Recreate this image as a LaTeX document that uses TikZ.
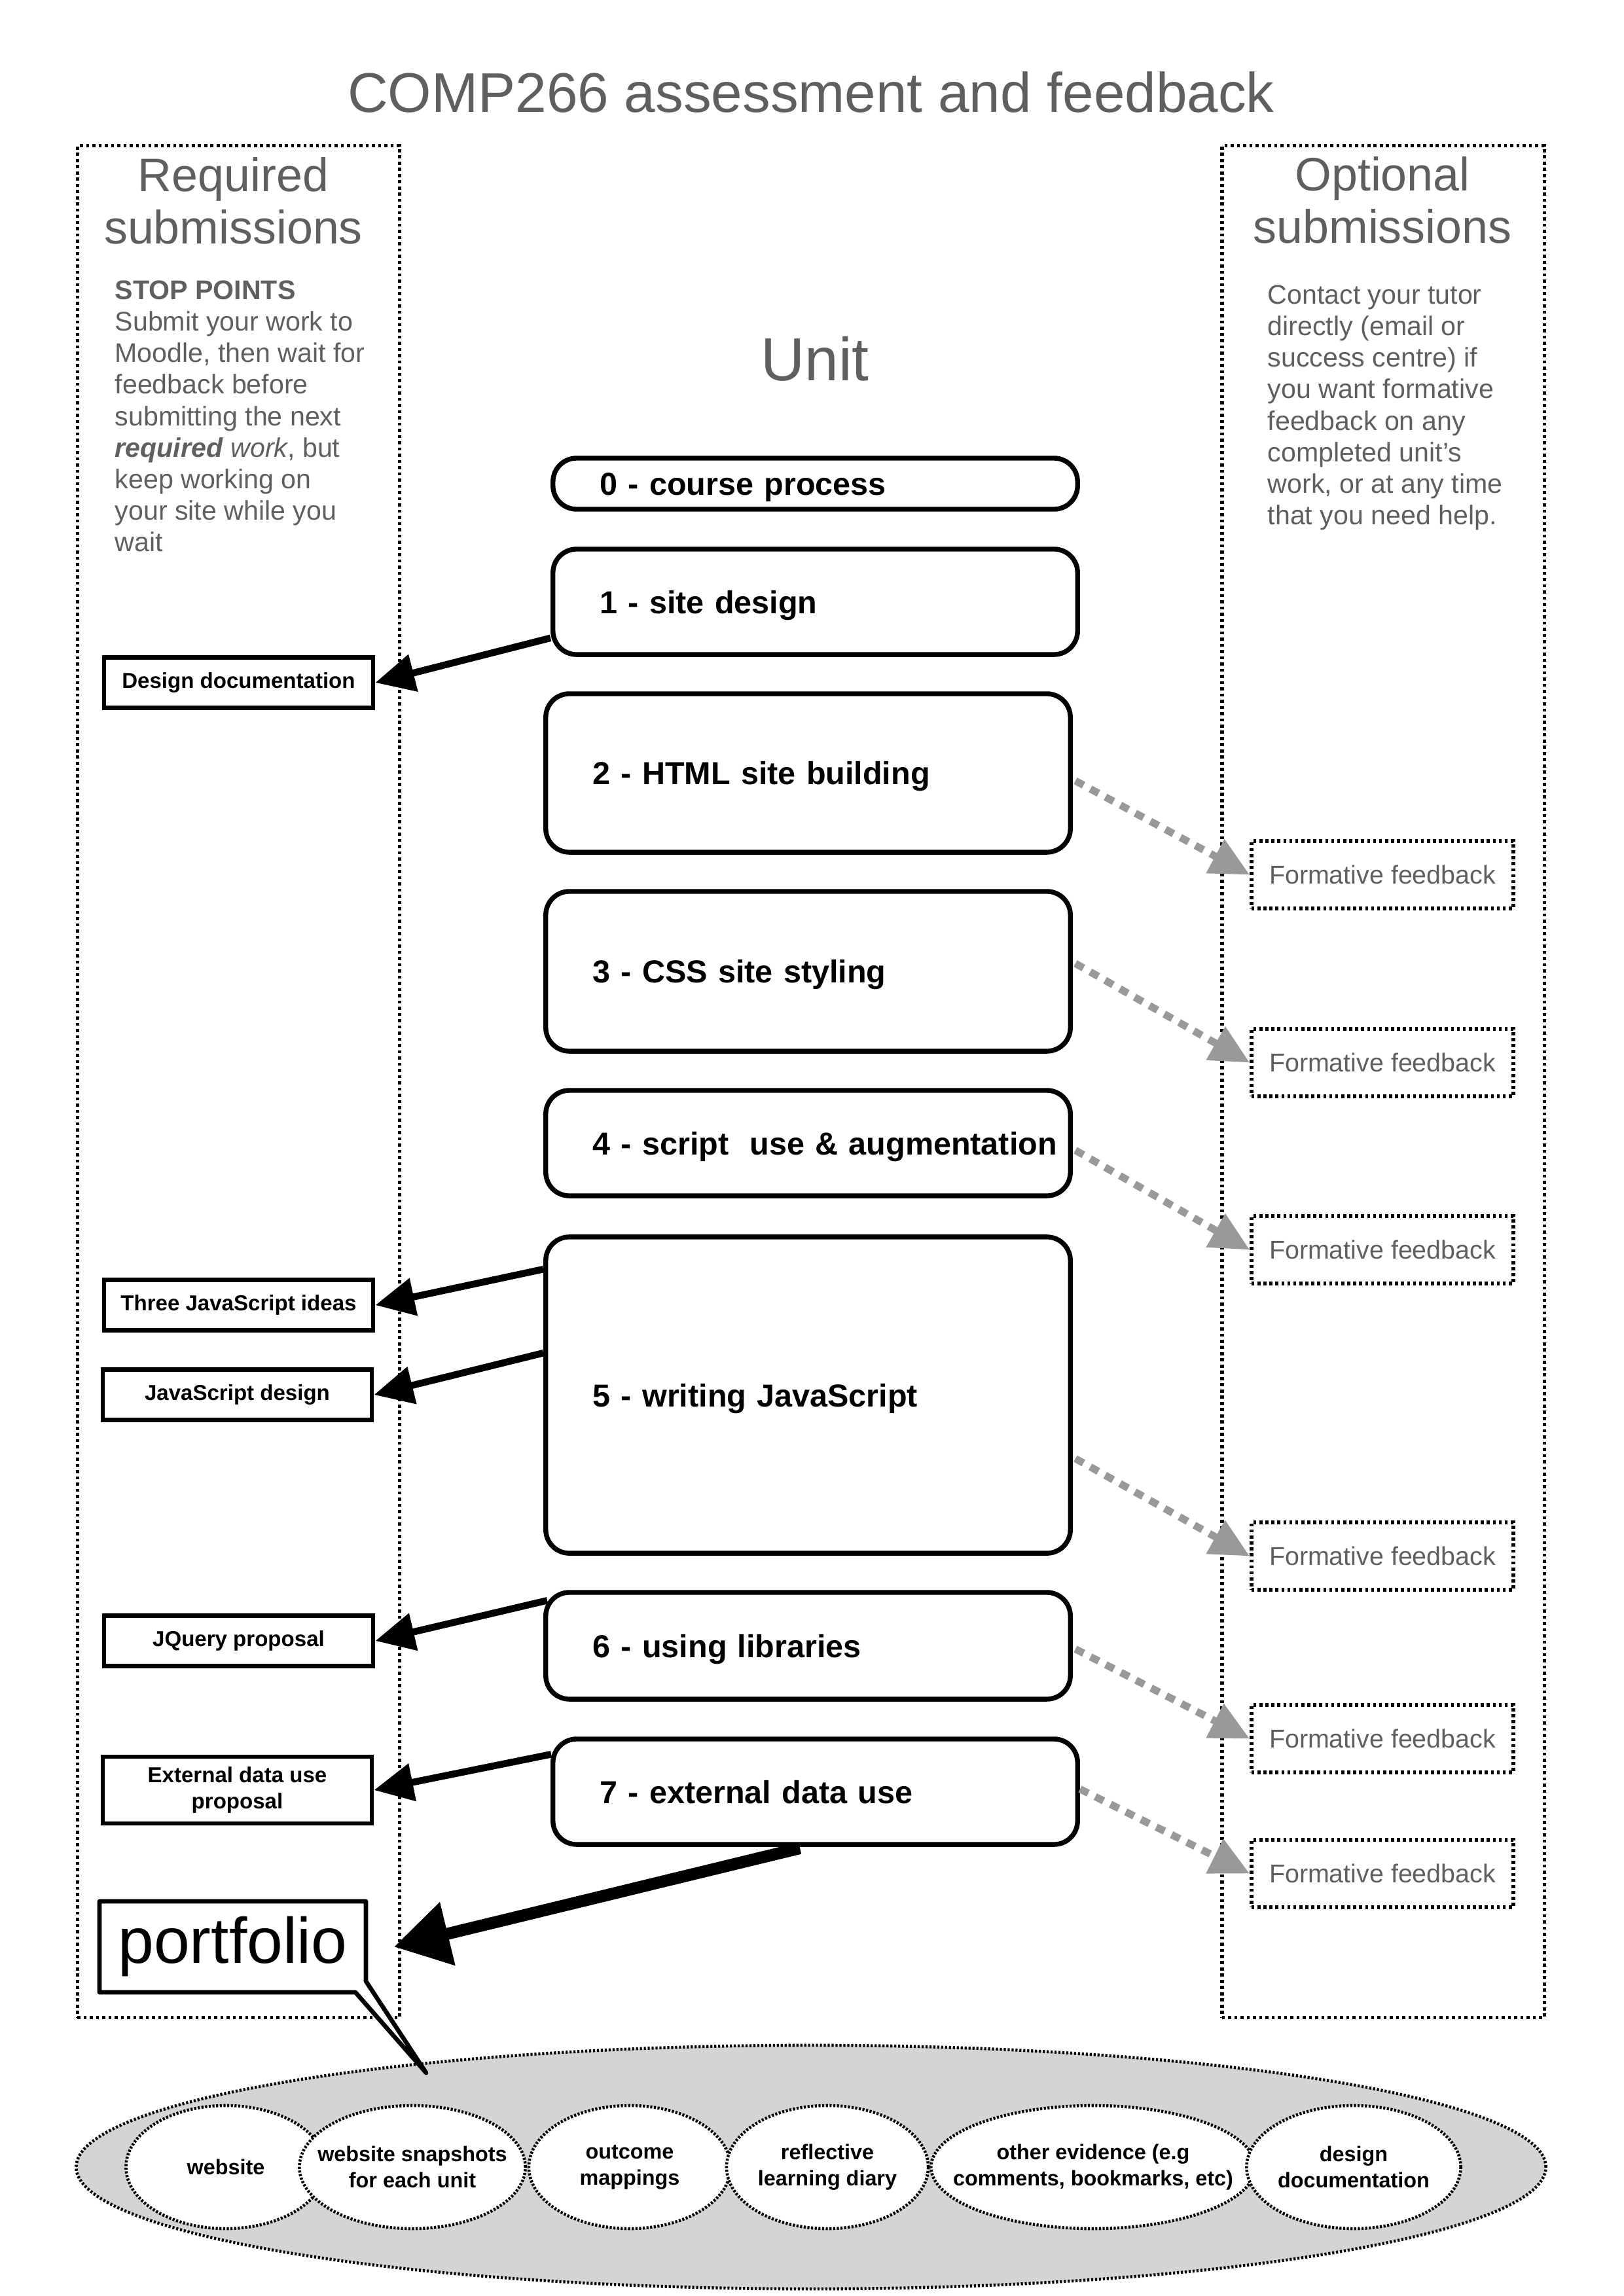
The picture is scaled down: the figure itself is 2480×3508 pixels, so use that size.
\documentclass[tikz,border=0pt]{standalone}
\usepackage{fontspec}
\setmainfont{Liberation Sans}
\usetikzlibrary{arrows.meta,shapes.geometric,calc}
\definecolor{txtgray}{HTML}{5F5F5F}
\definecolor{arrgray}{HTML}{999999}
\definecolor{ellgray}{HTML}{D4D4D4}
\begin{document}
\begin{tikzpicture}[x=0.01cm,y=-0.01cm,
  colbox/.style={draw, line width=1.5pt, dash pattern=on 1.3pt off 1.4pt, minimum width=4.92cm, minimum height=28.58cm, inner sep=0pt},
  heading/.style={text=txtgray, font=\fontsize{20.4}{22.8}\selectfont, align=center, inner sep=0pt, anchor=north},
  note/.style={text=txtgray, font=\fontsize{11.7}{13.7}\selectfont, align=left, inner sep=0pt, anchor=north west},
  unitbox/.style={draw, line width=2.1pt, rounded corners=0.36cm, fill=white, font=\fontsize{13.8}{16}\selectfont\bfseries, align=left, text width=8.01cm, text height=10pt, text depth=0pt, inner xsep=0pt, inner ysep=0pt, execute at begin node={\hspace*{0.72cm}}},
  subbox/.style={draw, line width=1.9pt, fill=white, minimum width=4.11cm, minimum height=0.77cm, font=\fontsize{9.4}{11.4}\selectfont\bfseries, align=center, inner sep=0pt},
  ffbox/.style={draw, line width=1.6pt, dash pattern=on 1.3pt off 1.3pt, minimum width=4cm, minimum height=1.03cm, text=txtgray, font=\fontsize{11.2}{13}\selectfont, inner sep=0pt},
  reqarrow/.style={line width=3pt, -{Triangle[length=17pt,width=16pt]}},
  bigarrow/.style={line width=5.2pt, -{Triangle[length=24pt,width=27pt]}},
  optarrow/.style={draw=arrgray, line width=3.2pt, dash pattern=on 4pt off 3.4pt, -{Triangle[length=17pt,width=16pt]}},
  part/.style={ellipse, draw, fill=white, line width=1.3pt, dash pattern=on 0.9pt off 0.7pt, minimum height=1.88cm, inner xsep=-0.6cm, inner ysep=0pt, align=center, font=\fontsize{9.2}{11.4}\selectfont\bfseries},
  callout/.style={draw, fill=white, line width=1.9pt, line join=round}
]
\useasboundingbox[fill=white] (0,0) rectangle (2480,3508);

% columns
\node[colbox] (reqcol) at (364.5,1652.6) {};
\node[colbox] (optcol) at (2113,1652.6) {};

% titles
\node[font=\fontsize{24.3}{28}\selectfont, text=txtgray, anchor=base, inner sep=0pt] (title) at (1239,171) {COMP266 assessment and feedback};
\node[heading] (reqhead) at (356.5,240) {Required\\submissions};
\node[heading] (opthead) at (2112,239) {Optional\\submissions};
\node[note] (reqnote) at (175,428) {\textbf{STOP POINTS}\\
Submit your work to\\
Moodle, then wait for\\
feedback before\\
submitting the next\\
\textbf{\textit{required}} \textit{work}, but\\
keep working on\\
your site while you\\
wait};
\node[note] (optnote) at (1936,435) {Contact your tutor\\
directly (email or\\
success centre) if\\
you want formative\\
feedback on any\\
completed unit’s\\
work, or at any time\\
that you need help.};
\node[font=\fontsize{26.4}{30}\selectfont, text=txtgray, anchor=base, inner sep=0pt] (unit) at (1245,581) {Unit};

% unit boxes
\node[unitbox, minimum height=0.78cm] (u0) at (1245.5,739) {0 - course process};
\node[unitbox, minimum height=1.61cm] (u1) at (1245.5,919.5) {1 - site design};
\node[unitbox, minimum height=2.42cm] (u2) at (1234.5,1181) {2 - HTML site building};
\node[unitbox, minimum height=2.44cm] (u3) at (1234.5,1484) {3 - CSS site styling};
\node[unitbox, minimum height=1.61cm] (u4) at (1234.5,1746.5) {4 - script~ use \& augmentation};
\node[unitbox, minimum height=4.83cm] (u5) at (1234.5,2131.5) {5 - writing JavaScript};
\node[unitbox, minimum height=1.63cm] (u6) at (1234.5,2514.5) {6 - using libraries};
\node[unitbox, minimum height=1.61cm] (u7) at (1245.5,2737.5) {7 - external data use};

% required submissions
\node[subbox] (dd) at (364.5,1043) {Design documentation};
\node[subbox] (tji) at (364.5,1994) {Three JavaScript ideas};
\node[subbox] (jsd) at (362.5,2131) {JavaScript design};
\node[subbox] (jq) at (364.5,2507) {JQuery proposal};
\node[subbox, minimum height=1.02cm] (ext) at (362.5,2735) {External data use\\proposal};

% formative feedback
\node[ffbox] (ff2) at (2112,1336.5) {Formative feedback};
\node[ffbox] (ff3) at (2112,1623.5) {Formative feedback};
\node[ffbox] (ff4) at (2112,1909.5) {Formative feedback};
\node[ffbox] (ff5) at (2112,2377.5) {Formative feedback};
\node[ffbox] (ff6) at (2112,2656.5) {Formative feedback};
\node[ffbox] (ff7) at (2112,2862.5) {Formative feedback};

% portfolio ellipse
\node[ellipse, draw, fill=ellgray, line width=1.3pt, dash pattern=on 0.9pt off 0.8pt, minimum width=22.44cm, minimum height=3.72cm, inner sep=0pt] (portf) at (1239,3311) {};
\node[part, minimum width=3.05cm] (e1) at (345,3311) {website};
\node[part, minimum width=3.45cm] (e2) at (630,3311) {website snapshots\\for each unit};
\node[part, minimum width=3.08cm] (e3) at (962,3311) {outcome\\mappings};
\node[part, minimum width=3.08cm] (e4) at (1264,3311) {reflective\\learning diary};
\node[part, minimum width=4.95cm] (e5) at (1670,3311) {other evidence (e.g\\comments, bookmarks, etc)};
\node[part, minimum width=3.27cm] (e6) at (2068,3311) {design\\documentation};

% portfolio callout
\coordinate (pnw) at (152,2905);
\coordinate (pne) at (559,2905);
\coordinate (pr) at (559,3027);
\coordinate (ptip) at (651,3167);
\coordinate (pb) at (543,3044);
\coordinate (psw) at (152,3044);
\draw[callout] (pnw) -- (pne) -- (pr) -- (ptip) -- (pb) -- (psw) -- cycle;
\node[font=\fontsize{28}{32}\selectfont, minimum width=4.07cm, minimum height=1.39cm, inner sep=0pt] (portfolio) at (355.5,2974.5) {portfolio};

% required arrows
\draw[reqarrow] ($(u1.south west)+(0,-29)$) -- (dd.east);
\draw[reqarrow] ($(u5.north west)+(0,53)$) -- (tji.east);
\draw[reqarrow] ($(u5.north west)+(0,181)$) -- (jsd.east);
\draw[reqarrow] ($(u6.north west)+(6,16)$) -- (jq.east);
\draw[reqarrow] ($(u7.north west)+(1,27)$) -- (ext.east);
\draw[bigarrow] ($(u7.south west)+(381,2)$) -- ($(portfolio.east)+(42,0)$);

% optional arrows
\draw[optarrow] ($(u2.east)+(4,12)$) -- (ff2.west);
\draw[optarrow] ($(u3.east)+(4,-12)$) -- (ff3.west);
\draw[optarrow] ($(u4.east)+(4,11)$) -- (ff4.west);
\draw[optarrow] ($(u5.east)+(4,97)$) -- (ff5.west);
\draw[optarrow] ($(u6.east)+(4,5)$) -- (ff6.west);
\draw[optarrow] ($(u7.east)+(0,-4)$) -- (ff7.west);
\end{tikzpicture}
\end{document}
